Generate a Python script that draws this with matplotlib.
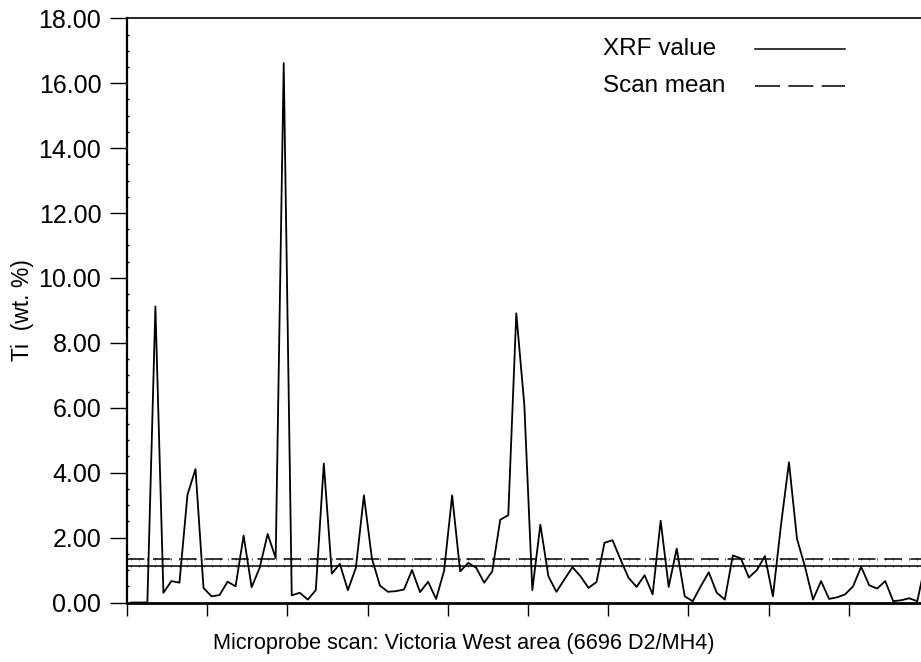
import numpy as np
import matplotlib
matplotlib.use("Agg")
import matplotlib.pyplot as plt
from matplotlib.lines import Line2D
from matplotlib.ticker import MultipleLocator, FixedLocator

plt.rcParams['font.family'] = ['Liberation Sans', 'DejaVu Sans']
plt.rcParams['lines.scale_dashes'] = False

# Ti values along the microprobe scan (wt. %)
ti_values = [0.00, 0.00, 0.00, 9.12, 0.30, 0.66, 0.61, 3.32, 4.11, 0.45,
             0.19, 0.23, 0.64, 0.50, 2.06, 0.47, 1.07, 2.11, 1.37, 16.62,
             0.22, 0.30, 0.09, 0.38, 4.28, 0.89, 1.19, 0.38, 1.07, 3.30,
             1.35, 0.52, 0.33, 0.35, 0.40, 1.00, 0.32, 0.64, 0.11, 0.98,
             3.30, 0.96, 1.22, 1.07, 0.61, 0.96, 2.55, 2.69, 8.91, 6.09,
             0.38, 2.40, 0.81, 0.33, 0.71, 1.09, 0.81, 0.45, 0.63, 1.84,
             1.92, 1.32, 0.76, 0.48, 0.84, 0.25, 2.52, 0.48, 1.66, 0.19,
             0.04, 0.50, 0.93, 0.30, 0.09, 1.45, 1.36, 0.77, 1.00, 1.43,
             0.19, 2.38, 4.32, 1.96, 1.10, 0.09, 0.66, 0.11, 0.16, 0.25,
             0.50, 1.10, 0.53, 0.43, 0.66, 0.04, 0.07, 0.13, 0.04, 1.20]
xrf_value = 1.14
scan_mean = 1.34

y_ticks = [0, 2, 4, 6, 8, 10, 12, 14, 16, 18]
y_tick_labels = ["0.00", "2.00", "4.00", "6.00", "8.00", "10.00", "12.00", "14.00", "16.00", "18.00"]
legend_labels = ["XRF value", "Scan mean"]

samples = np.arange(len(ti_values))

W, H = 921, 662
fig = plt.figure(figsize=(W / 100, H / 100), dpi=100)
ax_left, ax_right = 127, 921
ax_top, ax_bottom = 18.3, 602.5
ax = fig.add_axes([ax_left / W, 1 - ax_bottom / H, (ax_right - ax_left) / W, (ax_bottom - ax_top) / H])

px_per_sample = 8.02
x0 = -0.54
ax.set_xlim(x0, x0 + (ax_right - ax_left) / px_per_sample)
ax.set_ylim(0, 18)

ax.plot(samples, ti_values, color='black', lw=1.3, clip_on=True)
ax.axhline(xrf_value, color='black', lw=1.1)
ax.axhline(scan_mean, color='black', lw=1.1, dashes=(12.5, 6.3))
ax.plot(samples, [xrf_value] * len(samples), ls='none', marker='|', ms=2.0, mew=0.5, color='black')
ax.plot(samples, [scan_mean] * len(samples), ls='none', marker='|', ms=2.0, mew=0.5, color='black')

# axes styling
ax.spines['right'].set_visible(False)
ax.spines['left'].set_linewidth(1.6)
ax.spines['bottom'].set_linewidth(2.0)
ax.spines['top'].set_linewidth(1.2)

ax.yaxis.set_major_locator(FixedLocator(y_ticks))
ax.set_yticklabels(y_tick_labels)
ax.yaxis.set_minor_locator(MultipleLocator(0.5))
ax.tick_params(axis='y', which='major', direction='out', length=12, width=1.0, labelsize=18, pad=6.5)
ax.tick_params(axis='y', which='minor', direction='in', length=1.6, width=1.0)

ax.xaxis.set_major_locator(FixedLocator([x0 + 10 * k for k in range(11)]))
ax.tick_params(axis='x', which='major', direction='out', length=9.4, width=1.0, labelbottom=False)

ax.set_ylabel("Ti  (wt. %)", fontsize=16.5)
ax.yaxis.set_label_coords(-(127 - 34) / 794, 0.5)
ax.set_xlabel("Microprobe scan: Victoria West area (6696 D2/MH4)", fontsize=15.6, va='center')
ax.xaxis.set_label_coords((463.5 - 127) / 794, -(644 - 602.5) / 584.2)

# legend: text on the left, line sample on the right
legend_y_px = [49, 86]
legend_styles = [dict(), dict(dashes=(18, 6))]
for label, ypx, style in zip(legend_labels, legend_y_px, legend_styles):
    fig.text(603 / W, 1 - ypx / H, label, fontsize=17.5, ha='left', va='center')
    fig.add_artist(Line2D([755 / W, 845 / W], [1 - ypx / H, 1 - ypx / H],
                          transform=fig.transFigure, color='black', lw=1.1, **style))

fig.savefig("out.png", dpi=100)
